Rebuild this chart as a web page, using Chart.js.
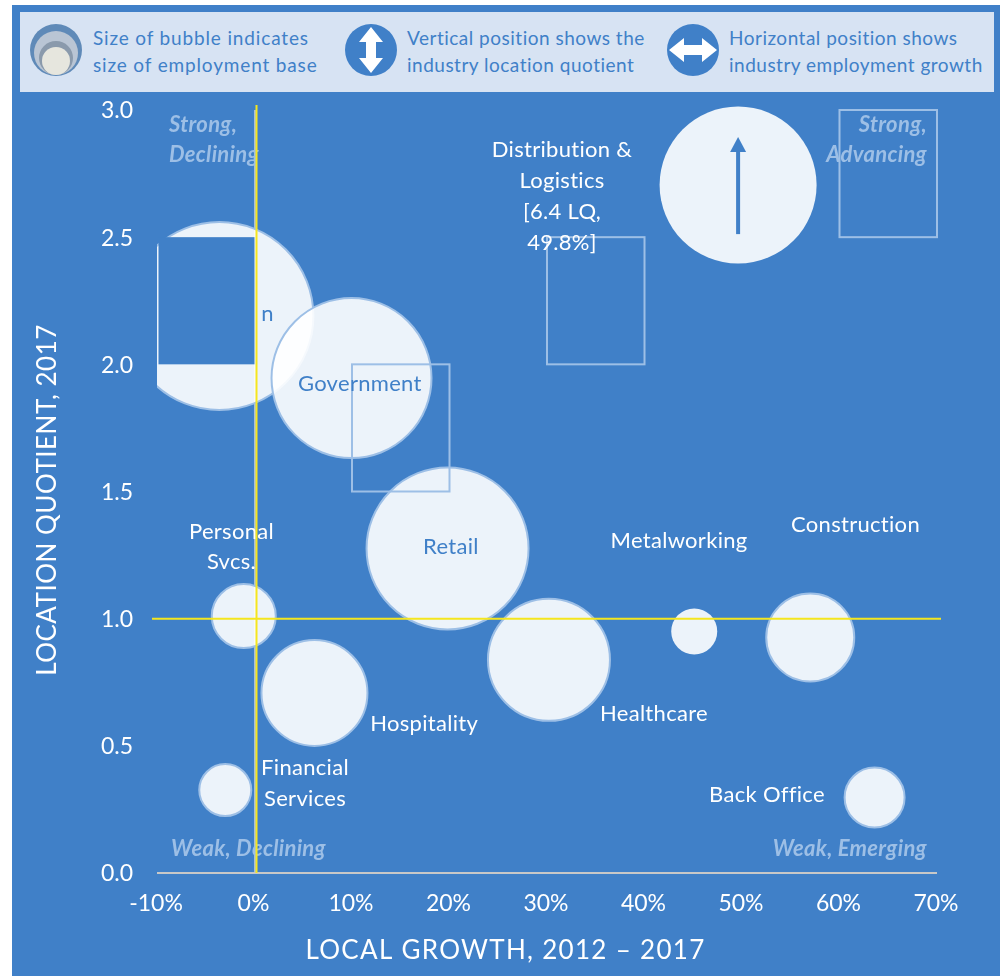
<!DOCTYPE html>
<html>
<head>
<meta charset="utf-8">
<title>Location quotient and local growth</title>
<script src="https://cdn.jsdelivr.net/npm/chart.js@4/dist/chart.umd.min.js"></script>
<style>
    html, body { margin: 0; padding: 0; background: #fff; }
    #page { position: relative; width: 1000px; height: 976px; overflow: hidden; font-family: Lato, sans-serif; }
    #panel { position: absolute; left: 12px; top: 5px; right: 0; bottom: 0; background: #4080c8; }
    #key { position: absolute; left: 20px; top: 12px; width: 974px; height: 80px; background: #d7e3f3; }
    #key svg { position: absolute; }
    #key div { position: absolute; top: 12px; color: #4080c8; font-size: 19px; line-height: 27px; white-space: nowrap; letter-spacing: 0.5px; }
    canvas { position: absolute; left: 0; top: 0; }
</style>
</head>
<body>
<div id="page">
    <div id="panel"></div>
    <div id="key">
        <svg style="left:8px;top:10px" width="56" height="56" viewBox="0 0 56 56">
            <circle cx="28" cy="28" r="26" fill="#5f8ab8"/>
            <circle cx="28" cy="31" r="22" fill="#b9c5d4"/>
            <circle cx="28" cy="36" r="17" fill="#8a9aac"/>
            <circle cx="28" cy="39" r="14" fill="#e6e6de"/>
        </svg>
        <svg style="left:325px;top:12px" width="52" height="52" viewBox="0 0 52 52">
            <circle cx="26" cy="26" r="26" fill="#4080c8"/>
            <path d="M26 3 L38 18 L31 18 L31 34 L38 34 L26 49 L14 34 L21 34 L21 18 L14 18 Z" fill="#fff"/>
        </svg>
        <svg style="left:647px;top:12px" width="52" height="52" viewBox="0 0 52 52">
            <circle cx="26" cy="26" r="26" fill="#4080c8"/>
            <path d="M2 26 L17 14 L17 21 L35 21 L35 14 L50 26 L35 38 L35 31 L17 31 L17 38 Z" fill="#fff"/>
        </svg>
        <div style="left:73px;letter-spacing:0.85px">Size of bubble indicates<br>size of employment base</div>
        <div style="left:387px">Vertical position shows the<br>industry location quotient</div>
        <div style="left:709px">Horizontal position shows<br>industry employment growth</div>
    </div>
    <canvas id="chart" width="1000" height="976"></canvas>
</div>
<script>
var categories = ['Education', 'Government', 'Retail', 'Personal Svcs.', 'Hospitality', 'Financial Services',
    'Healthcare', 'Metalworking', 'Construction', 'Back Office', 'Distribution & Logistics'];
var growth = [-3.6, 9.95, 19.8, -1.1, 6.15, -3.0, 30.2, 45.1, 57.0, 63.6, 49.6];
var quotient = [2.19, 1.946, 1.276, 1.01, 0.708, 0.326, 0.838, 0.95, 0.926, 0.297, 2.705];
var bubbleSize = [94, 80, 81, 32, 53, 26, 61, 23, 44, 30, 78.5];
var xTicks = [-10, 0, 10, 20, 30, 40, 50, 60, 70];
var yTicks = [0, 0.5, 1, 1.5, 2, 2.5, 3];

var pointLabels = ['n', 'Government', 'Retail', 'Personal', 'Svcs.', 'Hospitality', 'Financial', 'Services',
    'Healthcare', 'Metalworking', 'Construction', 'Back Office', 'Distribution &', 'Logistics', '[6.4 LQ,', '49.8%]'];
var pointLabelX = [1.33, 10.8, 20.15, -2.36, -2.36, 17.4, 5.18, 5.18, 40.97, 43.54, 61.64, 52.56, 31.54, 31.54, 31.54, 31.54];
var pointLabelY = [2.198, 1.923, 1.282, 1.341, 1.223, 0.586, 0.413, 0.291, 0.625, 1.305, 1.368, 0.307, 2.843, 2.721, 2.599, 2.477];
var insideBubble = ['n', 'Government', 'Retail'];

var quadrantLabels = ['Strong,', 'Declining', 'Weak, Declining', 'Strong,', 'Advancing', 'Weak, Emerging'];
var quadrantX = [-8.77, -8.77, -8.56, 68.97, 68.97, 68.97];
var quadrantY = [2.941, 2.823, 0.096, 2.941, 2.823, 0.096];
var quadrantAlign = ['left', 'left', 'left', 'right', 'right', 'right'];

var boxFromX = [-10, 10, 30, 60];
var boxToX = [0, 20, 40, 70];
var boxFromY = [2, 1.5, 2, 2.5];
var boxToY = [2.5, 2, 2.5, 3];

var BLUE = '#4080c8';
var FONT = 'Lato, sans-serif';

function drawText(ctx, text, x, y, font, color, align, spacing) {
    ctx.font = font;
    ctx.fillStyle = color;
    ctx.textAlign = align || 'center';
    ctx.textBaseline = 'middle';
    ctx.letterSpacing = spacing || '0px';
    ctx.fillText(text, x, y);
    ctx.letterSpacing = '0px';
}

var overlayPlugin = {
    id: 'overlay',
    afterDatasetsDraw: function (chart) {
        var ctx = chart.ctx;
        var xs = chart.scales.x;
        var ys = chart.scales.y;
        var i;
        ctx.save();

        // first box hides most of the big bubble
        ctx.fillStyle = BLUE;
        ctx.fillRect(xs.getPixelForValue(boxFromX[0]) + 1.5, ys.getPixelForValue(boxToY[0]),
            xs.getPixelForValue(boxToX[0]) - xs.getPixelForValue(boxFromX[0]) - 1.5,
            ys.getPixelForValue(boxFromY[0]) - ys.getPixelForValue(boxToY[0]));

        ctx.strokeStyle = '#9dbfe6';
        ctx.lineWidth = 2;
        for (i = 1; i < boxFromX.length; i++) {
            ctx.strokeRect(xs.getPixelForValue(boxFromX[i]), ys.getPixelForValue(boxToY[i]),
                xs.getPixelForValue(boxToX[i]) - xs.getPixelForValue(boxFromX[i]),
                ys.getPixelForValue(boxFromY[i]) - ys.getPixelForValue(boxToY[i]));
        }

        // arrow inside the distribution bubble
        var ax = xs.getPixelForValue(growth[10]);
        var ay0 = ys.getPixelForValue(2.512);
        var ay1 = ys.getPixelForValue(2.894);
        ctx.fillStyle = BLUE;
        ctx.fillRect(ax - 2, ay1 + 12, 4, ay0 - ay1 - 12);
        ctx.beginPath();
        ctx.moveTo(ax, ay1);
        ctx.lineTo(ax + 8, ay1 + 15);
        ctx.lineTo(ax - 8, ay1 + 15);
        ctx.closePath();
        ctx.fill();

        for (i = 0; i < pointLabels.length; i++) {
            drawText(ctx, pointLabels[i], xs.getPixelForValue(pointLabelX[i]), ys.getPixelForValue(pointLabelY[i]),
                '22px ' + FONT, insideBubble.indexOf(pointLabels[i]) >= 0 ? BLUE : '#fff', 'center', '0.3px');
        }
        for (i = 0; i < quadrantLabels.length; i++) {
            drawText(ctx, quadrantLabels[i], xs.getPixelForValue(quadrantX[i]), ys.getPixelForValue(quadrantY[i]),
                'italic bold 22px ' + FONT, '#9dbfe6', quadrantAlign[i], '0.3px');
        }

        // reference lines at zero growth and LQ 1.0
        ctx.strokeStyle = '#f5e61e';
        ctx.lineWidth = 2;
        ctx.beginPath();
        ctx.moveTo(xs.getPixelForValue(0) + 2, ys.top - 5);
        ctx.lineTo(xs.getPixelForValue(0) + 2, ys.bottom);
        ctx.moveTo(xs.left - 5, ys.getPixelForValue(1));
        ctx.lineTo(xs.right + 4, ys.getPixelForValue(1));
        ctx.stroke();

        // axis titles sit off-centre in the original, so they are placed by hand
        drawText(ctx, 'LOCAL GROWTH, 2012 \u2013 2017', 505.5, 951, '26px ' + FONT, '#fff', 'center', '1.3px');
        ctx.translate(48, 500);
        ctx.rotate(-Math.PI / 2);
        drawText(ctx, 'LOCATION QUOTIENT, 2017', 0, 0, '26px ' + FONT, '#fff', 'center', '0.5px');
        ctx.restore();
    }
};

new Chart(document.getElementById('chart'), {
    type: 'bubble',
    data: {
        labels: categories,
        datasets: [{
            label: 'Employment base',
            data: categories.map(function (name, i) {
                return { x: growth[i], y: quotient[i], r: bubbleSize[i] };
            }),
            backgroundColor: 'rgba(255, 255, 255, 0.9)',
            borderColor: categories.map(function (name) {
                return name === 'Metalworking' || name === 'Distribution & Logistics' ? 'rgba(255, 255, 255, 0)' : '#9dbfe6';
            }),
            borderWidth: 2,
            clip: { left: 0, top: false, right: false, bottom: false }
        }]
    },
    plugins: [overlayPlugin],
    options: {
        responsive: false,
        animation: false,
        events: [],
        devicePixelRatio: 1,
        layout: { autoPadding: false, padding: { top: 110, right: 63, left: 0, bottom: 0 } },
        plugins: {
            legend: { display: false },
            tooltip: { enabled: false }
        },
        scales: {
            x: {
                type: 'linear',
                min: -10,
                max: 70,
                afterFit: function (scale) {
                    scale.height = 103;
                    scale.paddingLeft = 0;
                    scale.paddingRight = 0;
                },
                afterBuildTicks: function (scale) {
                    scale.ticks = xTicks.map(function (v) { return { value: v }; });
                },
                border: { display: false },
                grid: {
                    drawTicks: false,
                    color: function (c) { return c.tick && c.tick.value === 0 ? '#a9bfd8' : 'rgba(0, 0, 0, 0)'; },
                    lineWidth: 2
                },
                ticks: {
                    color: '#fff',
                    padding: 17,
                    labelOffset: -1,
                    maxRotation: 0,
                    font: { family: 'Lato', size: 23 },
                    callback: function (value) { return value + '%'; }
                }
            },
            y: {
                type: 'linear',
                min: 0,
                max: 3,
                afterFit: function (scale) {
                    scale.width = 157;
                    scale.paddingTop = 0;
                    scale.paddingBottom = 0;
                },
                afterBuildTicks: function (scale) {
                    scale.ticks = yTicks.map(function (v) { return { value: v }; });
                },
                border: { display: false },
                grid: {
                    drawTicks: false,
                    color: function (c) { return c.tick && c.tick.value === 0 ? '#c8c8c8' : 'rgba(0, 0, 0, 0)'; },
                    lineWidth: 2
                },
                ticks: {
                    color: '#fff',
                    padding: 24,
                    labelOffset: 1,
                    font: { family: 'Lato', size: 23 },
                    callback: function (value) { return value.toFixed(1); }
                }
            }
        }
    }
});
</script>
</body>
</html>
